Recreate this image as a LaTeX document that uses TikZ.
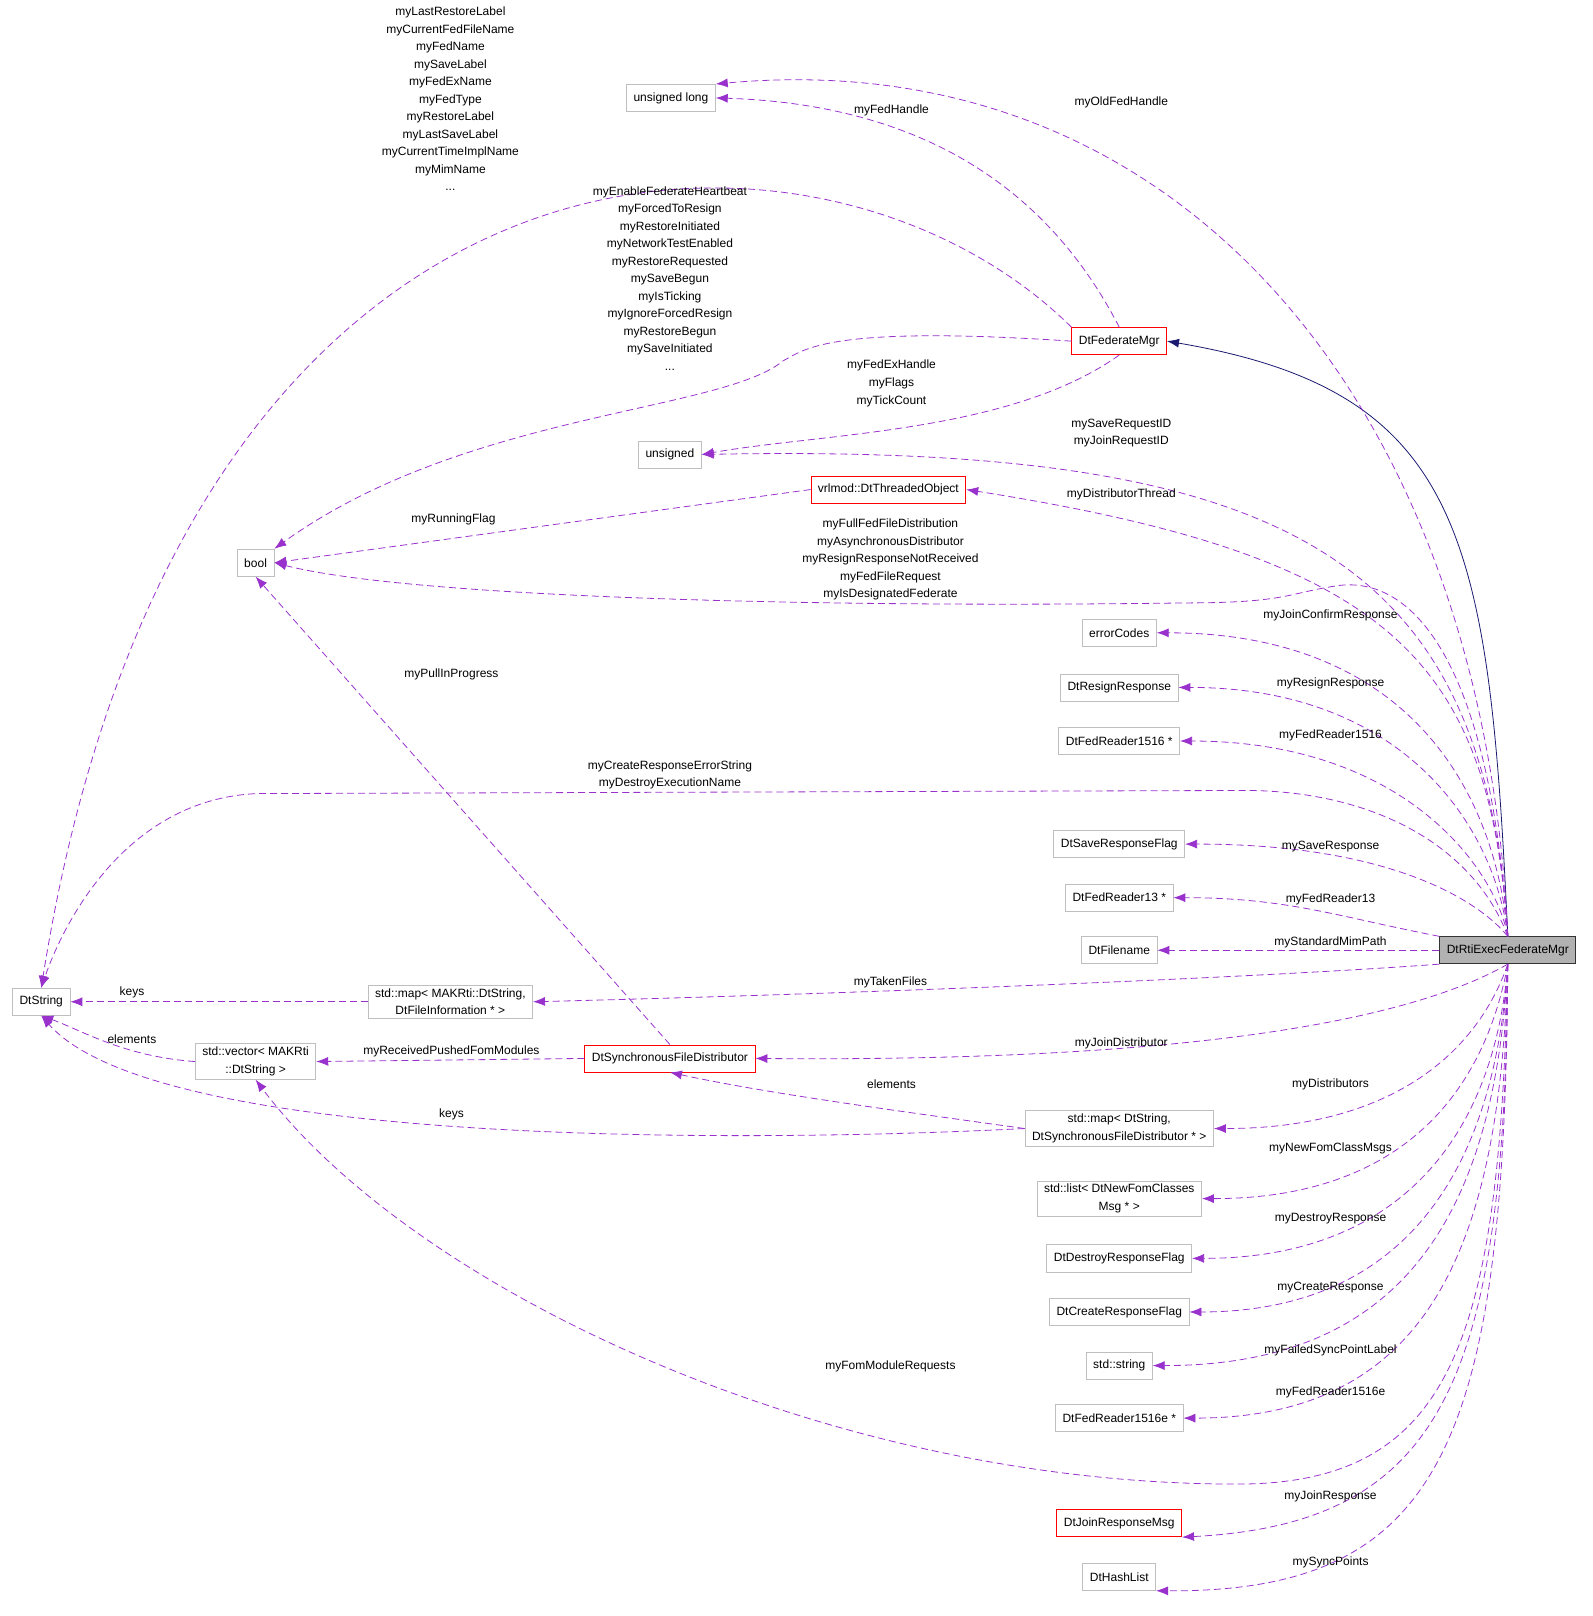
\documentclass[tikz,border=0pt]{standalone}
\usepackage{fontspec}
\setmainfont{Liberation Sans}
\usetikzlibrary{arrows.meta}
\definecolor{relcol}{RGB}{153,50,204}
\definecolor{inhcol}{RGB}{25,25,112}
\newcommand{\lbl}{\fontsize{12}{17.5}\selectfont}
\tikzset{
  box/.style={draw=black!25, thick, fill=white, font=\lbl, inner xsep=7pt, minimum height=27pt, align=center},
  redbox/.style={box, draw=red},
  mainbox/.style={box, draw=black!80, fill=black!30},
  rel/.style={draw=relcol, dashed, dash pattern=on 7pt off 4pt, thick, -{Latex[length=12pt,width=9pt]}},
  inh/.style={draw=inhcol, thick, -{Latex[length=12pt,width=9pt]}},
  lab/.style={font=\lbl, align=center, inner sep=0pt}
}
\begin{document}
\begin{tikzpicture}[x=1.03pt,y=-1.03pt]
\useasboundingbox (0,0) rectangle (1545,1568);
% nodes
\node[mainbox] (rti) at (1463,922) {DtRtiExecFederateMgr};
\node[redbox] (fed) at (1086,331) {DtFederateMgr};
\node[box] (ulong) at (651,95) {unsigned long};
\node[box] (uns) at (650,441) {unsigned};
\node[redbox] (thr) at (862,475) {vrlmod::DtThreadedObject};
\node[box] (bool) at (248,546) {bool};
\node[box] (err) at (1086,614) {errorCodes};
\node[box] (resign) at (1086,667) {DtResignResponse};
\node[box] (fr1516) at (1086,719) {DtFedReader1516 *};
\node[box] (save) at (1086,819) {DtSaveResponseFlag};
\node[box] (fr13) at (1086,871) {DtFedReader13 *};
\node[box] (fname) at (1086,922) {DtFilename};
\node[box] (dstr) at (40,972) {DtString};
\node[box] (mapfi) at (437,972) {std::map\textless{} MAKRti::DtString,\\DtFileInformation * \textgreater};
\node[box] (vec) at (248,1030) {std::vector\textless{} MAKRti\\::DtString \textgreater};
\node[redbox] (sync) at (650,1027) {DtSynchronousFileDistributor};
\node[box] (mapsd) at (1086,1095) {std::map\textless{} DtString,\\DtSynchronousFileDistributor * \textgreater};
\node[box] (lst) at (1086,1163) {std::list\textless{} DtNewFomClasses\\Msg * \textgreater};
\node[box] (destr) at (1086,1221) {DtDestroyResponseFlag};
\node[box] (create) at (1086,1273) {DtCreateResponseFlag};
\node[box] (sstr) at (1086,1325) {std::string};
\node[box] (fr1516e) at (1086,1376) {DtFedReader1516e *};
\node[redbox] (join) at (1086,1478) {DtJoinResponseMsg};
\node[box] (hash) at (1086,1530) {DtHashList};

% inheritance
\draw[inh] (rti.north) .. controls (1445,520) and (1420,380) .. (fed.east);

% relations from DtFederateMgr
\draw[rel] (fed.north) .. controls (1000,150) and (850,100) .. (ulong.east);
\draw[rel] (fed.north west) .. controls (800,80) and (180,80) .. (dstr.north);
\draw[rel] (fed.west) .. controls (800,315) and (780,340) .. (760,350) .. controls (700,400) and (450,400) .. (bool.north east);
\draw[rel] (fed.south) .. controls (980,420) and (800,420) .. (uns.east);

% relations from DtRtiExecFederateMgr, upward
\draw[rel] (rti.north) .. controls (1440,400) and (1150,40) .. (ulong.north east);
\draw[rel] (rti.north) .. controls (1440,540) and (1250,430) .. (uns.east);
\draw[rel] (rti.north) .. controls (1445,640) and (1350,540) .. (thr.east);
\draw[rel] (rti.north) .. controls (1445,640) and (1370,560) .. (1300,568) .. controls (1250,575) and (1250,585) .. (1150,585) .. controls (800,590) and (400,580) .. (bool.east);
\draw[rel] (rti.north) .. controls (1450,760) and (1360,614) .. (err.east);
\draw[rel] (rti.north) .. controls (1450,800) and (1360,667) .. (resign.east);
\draw[rel] (rti.north) .. controls (1450,840) and (1360,719) .. (fr1516.east);
\draw[rel] (rti.north) .. controls (1430,820) and (1330,765) .. (1200,767) -- (250,770) .. controls (120,775) and (60,900) .. (dstr.north);
\draw[rel] (rti.north) .. controls (1440,880) and (1360,819) .. (save.east);
\draw[rel] (rti.north west) .. controls (1300,890) and (1250,871) .. (fr13.east);
\draw[rel] (rti.west) -- (fname.east);
\draw[rel] (rti.south west) .. controls (1200,950) and (800,965) .. (mapfi.east);

% relations from DtRtiExecFederateMgr, downward
\draw[rel] (rti.south) .. controls (1350,1000) and (1100,1030) .. (sync.east);
\draw[rel] (rti.south) .. controls (1430,1030) and (1340,1095) .. (mapsd.east);
\draw[rel] (rti.south) .. controls (1440,1060) and (1360,1163) .. (lst.east);
\draw[rel] (rti.south) .. controls (1450,1100) and (1360,1221) .. (destr.east);
\draw[rel] (rti.south) .. controls (1450,1140) and (1360,1273) .. (create.east);
\draw[rel] (rti.south) .. controls (1450,1180) and (1360,1325) .. (sstr.east);
\draw[rel] (rti.south) .. controls (1455,1220) and (1380,1376) .. (fr1516e.east);
\draw[rel] (rti.south) .. controls (1455,1300) and (1410,1440) .. (1200,1440) .. controls (800,1440) and (400,1250) .. (vec.south);
\draw[rel] (rti.south) .. controls (1460,1340) and (1400,1478) .. (join.south east);
\draw[rel] (rti.south) .. controls (1460,1400) and (1400,1545) .. (hash.south east);

% other relations
\draw[rel] (thr.west) -- (bool.east);
\draw[rel] (mapfi.west) -- (dstr.east);
\draw[rel] (vec.west) .. controls (120,1025) and (80,1000) .. (dstr.south);
\draw[rel] (sync.west) -- (vec.east);
\draw[rel] (sync.north) -- (bool.south);
\draw[rel] (mapsd.west) .. controls (850,1075) and (740,1060) .. (sync.south);
\draw[rel] (mapsd.west) .. controls (700,1110) and (150,1110) .. (dstr.south);

% labels
\node[lab] (lOld) at (1088,99) {myOldFedHandle};
\node[lab] (lFedH) at (865,107) {myFedHandle};
\node[lab] (lStr) at (437,96) {myLastRestoreLabel\\myCurrentFedFileName\\myFedName\\mySaveLabel\\myFedExName\\myFedType\\myRestoreLabel\\myLastSaveLabel\\myCurrentTimeImplName\\myMimName\\...};
\node[lab] (lBool) at (650,270) {myEnableFederateHeartbeat\\myForcedToResign\\myRestoreInitiated\\myNetworkTestEnabled\\myRestoreRequested\\mySaveBegun\\myIsTicking\\myIgnoreForcedResign\\myRestoreBegun\\mySaveInitiated\\...};
\node[lab] (lUns) at (865,372) {myFedExHandle\\myFlags\\myTickCount};
\node[lab] (lReq) at (1088,420) {mySaveRequestID\\myJoinRequestID};
\node[lab] (lThr) at (1088,480) {myDistributorThread};
\node[lab] (lRun) at (440,504) {myRunningFlag};
\node[lab] (lFull) at (864,543) {myFullFedFileDistribution\\myAsynchronousDistributor\\myResignResponseNotReceived\\myFedFileRequest\\myIsDesignatedFederate};
\node[lab] (lJc) at (1291,597) {myJoinConfirmResponse};
\node[lab] (lRes) at (1291,663) {myResignResponse};
\node[lab] (lF1516) at (1291,714) {myFedReader1516};
\node[lab] (lPull) at (438,654) {myPullInProgress};
\node[lab] (lCre) at (650,752) {myCreateResponseErrorString\\myDestroyExecutionName};
\node[lab] (lSave) at (1291,821) {mySaveResponse};
\node[lab] (lF13) at (1291,873) {myFedReader13};
\node[lab] (lMim) at (1291,914) {myStandardMimPath};
\node[lab] (lTak) at (864,953) {myTakenFiles};
\node[lab] (lKey1) at (128,963) {keys};
\node[lab] (lEl1) at (128,1008) {elements};
\node[lab] (lRec) at (438,1020) {myReceivedPushedFomModules};
\node[lab] (lJd) at (1088,1012) {myJoinDistributor};
\node[lab] (lEl2) at (865,1052) {elements};
\node[lab] (lDist) at (1291,1052) {myDistributors};
\node[lab] (lKey2) at (438,1081) {keys};
\node[lab] (lNew) at (1291,1114) {myNewFomClassMsgs};
\node[lab] (lDes) at (1291,1182) {myDestroyResponse};
\node[lab] (lCr) at (1291,1249) {myCreateResponse};
\node[lab] (lFail) at (1291,1310) {myFailedSyncPointLabel};
\node[lab] (lFom) at (864,1326) {myFomModuleRequests};
\node[lab] (lF1516e) at (1291,1351) {myFedReader1516e};
\node[lab] (lJoin) at (1291,1452) {myJoinResponse};
\node[lab] (lSync) at (1291,1516) {mySyncPoints};
\end{tikzpicture}
\end{document}
